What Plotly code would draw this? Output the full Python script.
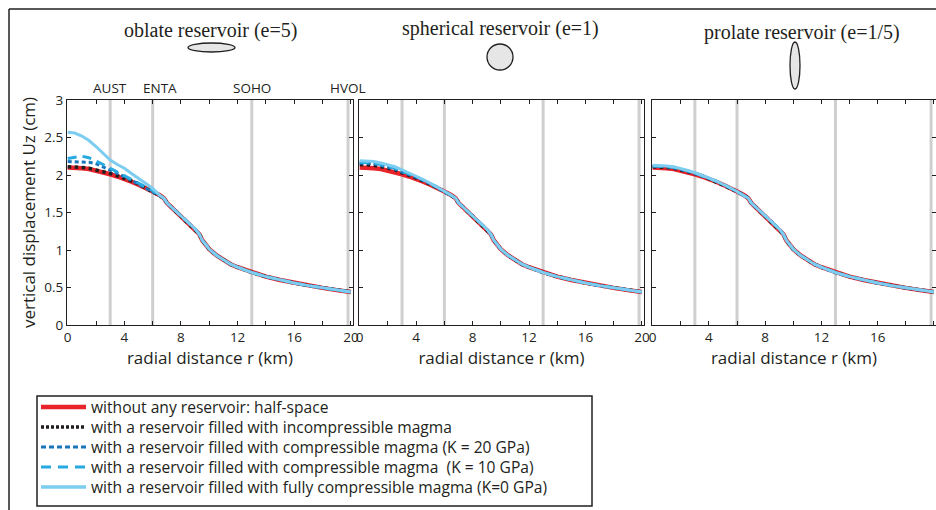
import plotly.graph_objects as go

W, H = 936, 510

# ---------------- data ----------------
r_km = [0, 0.5, 1, 1.5, 2, 2.5, 3, 3.5, 4, 4.5, 5, 5.5, 6,
        6.5, 6.8, 7, 7.5, 8, 8.5, 9, 9.3, 9.5, 9.8, 10, 10.5, 11, 11.5,
        12, 13, 14, 15, 16, 17, 18, 19, 20]

# shared far-field part (r >= 6.5 km), identical for all cases
far_field = [1.73, 1.69, 1.63, 1.54, 1.45, 1.37, 1.28, 1.21, 1.13, 1.06, 1.01,
             0.93, 0.87, 0.81, 0.77, 0.70, 0.645, 0.60, 0.56, 0.525, 0.495,
             0.465, 0.44]

# near-field values (r = 0 ... 6 km) per panel and case
halfspace_near = [2.10, 2.10, 2.09, 2.08, 2.06, 2.04, 2.01, 1.98, 1.95, 1.91, 1.87, 1.83, 1.78]

oblate_incomp = [2.11, 2.11, 2.10, 2.09, 2.07, 2.05, 2.02, 1.99, 1.96, 1.92, 1.88, 1.83, 1.78]
oblate_k20 = [2.18, 2.18, 2.18, 2.17, 2.15, 2.11, 2.06, 2.02, 1.98, 1.93, 1.88, 1.83, 1.78]
oblate_k10 = [2.22, 2.24, 2.25, 2.23, 2.19, 2.14, 2.09, 2.04, 2.00, 1.95, 1.90, 1.85, 1.79]
oblate_k0 = [2.57, 2.56, 2.52, 2.46, 2.38, 2.29, 2.20, 2.14, 2.09, 2.02, 1.96, 1.89, 1.82]

spher_incomp = [2.14, 2.14, 2.13, 2.11, 2.09, 2.07, 2.03, 2.00, 1.96, 1.92, 1.88, 1.83, 1.78]
spher_k20 = [2.16, 2.16, 2.15, 2.13, 2.11, 2.08, 2.04, 2.01, 1.97, 1.93, 1.88, 1.83, 1.78]
spher_k10 = [2.17, 2.17, 2.16, 2.14, 2.12, 2.09, 2.05, 2.02, 1.98, 1.93, 1.89, 1.84, 1.78]
spher_k0 = [2.19, 2.19, 2.18, 2.16, 2.14, 2.11, 2.07, 2.03, 1.99, 1.94, 1.89, 1.84, 1.79]

prol_incomp = [2.11, 2.11, 2.10, 2.09, 2.07, 2.05, 2.02, 1.99, 1.95, 1.91, 1.87, 1.83, 1.78]
prol_k20 = [2.12, 2.12, 2.11, 2.10, 2.08, 2.05, 2.02, 1.99, 1.96, 1.92, 1.87, 1.83, 1.78]
prol_k10 = [2.12, 2.12, 2.11, 2.10, 2.08, 2.06, 2.03, 1.99, 1.96, 1.92, 1.88, 1.83, 1.78]
prol_k0 = [2.13, 2.13, 2.12, 2.11, 2.09, 2.06, 2.03, 2.00, 1.96, 1.92, 1.88, 1.83, 1.78]

panel_titles = ["oblate reservoir (e=5)", "spherical reservoir (e=1)", "prolate reservoir (e=1/5)"]
stations = ["AUST", "ENTA", "SOHO", "HVOL"]
station_r = [3, 6, 13, 19.8]

case_names = [
    "without any reservoir: half-space",
    "with a reservoir filled with incompressible magma",
    "with a reservoir filled with compressible magma (K = 20 GPa)",
    "with a reservoir filled with compressible magma  (K = 10 GPa)",
    "with a reservoir filled with fully compressible magma (K=0 GPa)",
]

panels = [
    [halfspace_near, oblate_incomp, oblate_k20, oblate_k10, oblate_k0],
    [halfspace_near, spher_incomp, spher_k20, spher_k10, spher_k0],
    [halfspace_near, prol_incomp, prol_k20, prol_k10, prol_k0],
]

x_ticks = [0, 2, 4, 6, 8, 10, 12, 14, 16, 18, 20]
x_ticktext = ["0", "", "4", "", "8", "", "12", "", "16", "", "20"]
y_ticks = [0, 0.5, 1, 1.5, 2, 2.5, 3]
y_ticktext = ["0", "0.5", "1", "1.5", "2", "2.5", "3"]

# ---------------- styling ----------------
styles = [
    dict(color="#e8232a", width=4.5, dash="solid"),
    dict(color="#231f20", width=3.5, dash="dot"),
    dict(color="#1b75bb", width=3, dash="4px,3px"),
    dict(color="#27aae1", width=3, dash="9px,6px"),
    dict(color="#7ccdf0", width=3, dash="solid"),
]
legend_dash = ["solid", "3px,2px", "5px,3px", "10px,7px", "solid"]

SANS = "'Open Sans', 'Noto Sans', sans-serif"
SERIF = "'Liberation Serif', 'Times New Roman', serif"
INK = "#231f20"


def px(x):
    return x / W


def py(y):
    return 1 - y / H


domains = [(67, 353), (359, 644), (652, 936)]
y_dom = [py(325), py(100)]

fig = go.Figure()

for p, series in enumerate(panels):
    xa = "x" if p == 0 else f"x{p+1}"
    ya = "y" if p == 0 else f"y{p+1}"
    for k, near in enumerate(series):
        vals = near + far_field
        fig.add_trace(go.Scatter(
            x=r_km, y=vals, mode="lines", name=case_names[k],
            line=dict(color=styles[k]["color"], width=styles[k]["width"],
                      dash=styles[k]["dash"]),
            xaxis=xa, yaxis=ya, showlegend=False, hoverinfo="skip",
        ))

axis_common = dict(
    showgrid=False, zeroline=False, showline=True, linecolor=INK, linewidth=1.3,
    mirror="ticks", ticks="inside", ticklen=4, tickwidth=1, tickcolor=INK,
    tickfont=dict(family=SANS, size=13.5, color=INK), automargin=False,
)

layout = dict(
    width=W, height=H, margin=dict(l=0, r=0, t=0, b=0, pad=0, autoexpand=False),
    paper_bgcolor="white", plot_bgcolor="white",
    showlegend=False,
)

for p in range(3):
    sx = "" if p == 0 else str(p + 1)
    layout[f"xaxis{sx}"] = dict(
        axis_common, domain=[px(domains[p][0]), px(domains[p][1])],
        range=[-0.05, 20.15], tickvals=x_ticks, ticktext=x_ticktext,
        anchor=f"y{sx}",
        title=dict(text="radial distance r (km)", standoff=4,
                   font=dict(family=SANS, size=17, color=INK)),
    )
    ydict = dict(
        axis_common, domain=y_dom, range=[0, 3], tickvals=y_ticks,
        anchor=f"x{sx}",
        ticktext=y_ticktext if p == 0 else [""] * len(y_ticks),
    )
    if p == 0:
        ydict["title"] = dict(text="vertical displacement Uz (cm)", standoff=4,
                              font=dict(family=SANS, size=17, color=INK))
    layout[f"yaxis{sx}"] = ydict

fig.update_layout(**layout)

shapes = []
# station lines
for p in range(3):
    sx = "" if p == 0 else str(p + 1)
    for r in station_r:
        shapes.append(dict(type="line", xref=f"x{sx}", yref=f"y{sx} domain",
                           x0=r, x1=r, y0=0, y1=1, layer="below",
                           line=dict(color="#cfcfcf", width=3)))

# outer frame lines
shapes.append(dict(type="line", xref="paper", yref="paper", x0=px(9), x1=1,
                   y0=py(9), y1=py(9), line=dict(color=INK, width=1.5)))
shapes.append(dict(type="line", xref="paper", yref="paper", x0=px(9), x1=px(9),
                   y0=py(9), y1=0, line=dict(color=INK, width=1.5)))
# legend frame
shapes.append(dict(type="rect", xref="paper", yref="paper", x0=px(37), x1=px(592),
                   y0=py(396), y1=py(506), line=dict(color=INK, width=1.5)))
# reservoir shapes
ell = [(188, 235, 43, 52), (487, 513, 44, 70), (790, 800, 42, 89)]
for (x0, x1, y0, y1) in ell:
    shapes.append(dict(type="circle", xref="paper", yref="paper",
                       x0=px(x0), x1=px(x1), y0=py(y1), y1=py(y0),
                       fillcolor="#e6e6e6", line=dict(color=INK, width=1.3)))

annotations = []
# legend (drawn manually for tight row spacing)
legend_rows = [407, 427, 447, 467, 487]
for k, (name, ry) in enumerate(zip(case_names, legend_rows)):
    shapes.append(dict(type="line", xref="paper", yref="paper",
                       x0=px(41), x1=px(86), y0=py(ry), y1=py(ry),
                       line=dict(color=styles[k]["color"],
                                 width=styles[k]["width"] if k != 4 else 3.5,
                                 dash=legend_dash[k])))
    annotations.append(dict(text=name, xref="paper", yref="paper", x=px(90), y=py(ry),
                            xanchor="left", yanchor="middle", showarrow=False,
                            borderpad=0,
                            font=dict(family=SANS, size=15.6, color=INK)))

title_pos = [(210, 30), (500, 28), (802, 33)]
for t, (tx, ty) in zip(panel_titles, title_pos):
    annotations.append(dict(text=t, xref="paper", yref="paper", x=px(tx), y=py(ty),
                            xanchor="center", yanchor="middle", showarrow=False,
                            font=dict(family=SERIF, size=20, color=INK)))
shifts = [0, 7, 0, 0]
for name, r, s in zip(stations, station_r, shifts):
    annotations.append(dict(text=name, xref="x", yref="paper", x=r, y=py(88),
                            xshift=s, xanchor="center", yanchor="middle",
                            showarrow=False,
                            font=dict(family=SANS, size=13.5, color=INK)))

fig.update_layout(shapes=shapes, annotations=annotations)

post = (
    "document.documentElement.style.margin='0';"
    "document.documentElement.style.overflow='hidden';"
    "document.body.style.margin='0';document.body.style.padding='0';"
    "document.body.style.overflow='hidden';"
    "var d=document.getElementById('{plot_id}');"
    "d.style.position='fixed';d.style.left='0px';d.style.top='0px';"
)
fig.write_html("out.html", config={"displayModeBar": False}, post_script=post)
